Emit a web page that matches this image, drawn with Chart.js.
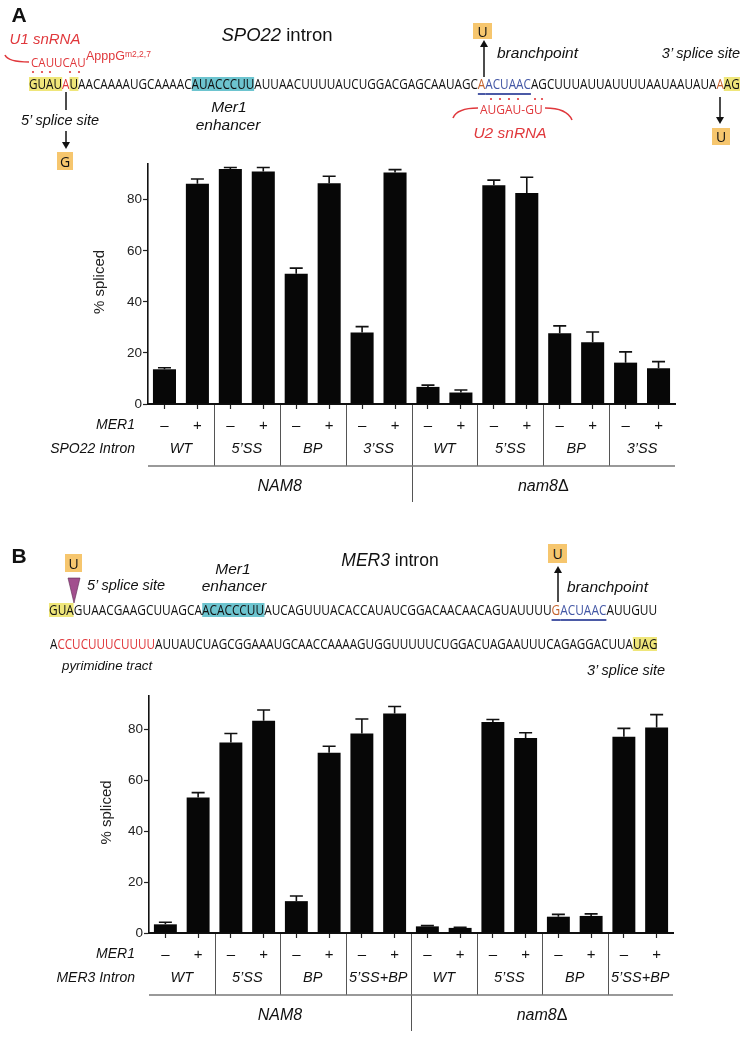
<!DOCTYPE html>
<html><head><meta charset="utf-8">
<script src="https://cdn.jsdelivr.net/npm/chart.js@4.4.1/dist/chart.umd.min.js"></script>
<style>
html,body{margin:0;padding:0;background:#fff;}
#page{position:relative;width:750px;height:1037px;overflow:hidden;font-family:'Liberation Sans',Arial,sans-serif;color:#111;}
canvas{position:absolute;left:0;}
svg{position:absolute;left:0;top:0;}
.t{position:absolute;white-space:nowrap;line-height:1;}
.c{transform:translate(-50%,-50%);}
.l{transform:translate(0,-50%);}
.rt{transform:translate(-100%,-50%);}
.i{font-style:italic;}
.red{color:#e0383c;}
.seq{position:absolute;white-space:nowrap;font-family:'Open Sans','Noto Sans',sans-serif;font-size:14.5px;line-height:14px;height:14px;transform-origin:0 50%;color:#111;}
.hy{display:inline-block;background:#efe67a;height:14px;line-height:14px;vertical-align:top;}
.ht{display:inline-block;background:#6dc4cf;height:14px;line-height:14px;vertical-align:top;}
.r{color:#e0383c;}
.o{color:#c4622c;}
.b{color:#4357a5;}
.ul{text-decoration:underline;text-decoration-color:#4b5aa6;text-decoration-thickness:1.5px;text-underline-offset:4px;}
.box{position:absolute;background:#f6c66e;font-family:'Open Sans','Noto Sans',sans-serif;font-size:14px;display:flex;align-items:center;justify-content:center;color:#111;}
</style></head>
<body>
<div id="page">
<canvas id="chartA" width="750" height="360" style="top:150px"></canvas>
<canvas id="chartB" width="750" height="357" style="top:680px"></canvas>

<svg width="750" height="1037" viewBox="0 0 750 1037">
  <g fill="none" stroke="#e0383c" stroke-width="1.6">
    <path d="M5,55 Q8,62 29,62"/>
    <path d="M453,118 Q457,108 478,108"/>
    <path d="M545,108 Q567,108 572,120"/>
  </g>
  <g fill="#e0383c">
    <circle cx="33" cy="72" r="1.1"/><circle cx="42" cy="72" r="1.1"/><circle cx="50" cy="72" r="1.1"/>
    <circle cx="70" cy="72" r="1.1"/><circle cx="79" cy="72" r="1.1"/>
    <circle cx="491" cy="99" r="1.1"/><circle cx="500" cy="99" r="1.1"/><circle cx="509" cy="99" r="1.1"/><circle cx="518" cy="99" r="1.1"/>
    <circle cx="535" cy="99" r="1.1"/><circle cx="542" cy="99" r="1.1"/>
  </g>
  <g stroke="#111" stroke-width="1.5" fill="none">
    <line x1="66" y1="92" x2="66" y2="110"/>
    <line x1="66" y1="131" x2="66" y2="143"/>
    <line x1="484" y1="77" x2="484" y2="46"/>
    <line x1="720" y1="97" x2="720" y2="118"/>
    <line x1="558" y1="602" x2="558" y2="572"/>
  </g>
  <g fill="#111">
    <polygon points="62,142 70,142 66,149"/>
    <polygon points="480,47 488,47 484,40"/>
    <polygon points="716,117 724,117 720,124"/>
    <polygon points="554,573 562,573 558,566"/>
  </g>
  <polygon points="68,578 80,578 74,603" fill="#a24f8e" stroke="#5a2a50" stroke-width="0.6"/>
</svg>

<!-- Panel A annotations -->
<div class="t c" style="left:19px;top:14px;font-size:21px;font-weight:bold;">A</div>
<div class="t c" style="left:277px;top:35px;font-size:18.5px;"><span class="i">SPO22</span> intron</div>
<div class="t c i red" style="left:45px;top:38px;font-size:15px;">U1 snRNA</div>
<div class="seq fit" data-x0="31" data-x1="86" style="top:55px;font-size:13.5px;color:#e0383c;">CAUUCAU</div>
<div class="t red" style="left:86px;top:50px;font-size:12.5px;">ApppG<span style="font-size:8.5px;position:relative;top:-3px;">m2,2,7</span></div>
<div class="seq fit" data-x0="29" data-x1="740" style="top:77px;"><span class="hy">GUAU</span><span class="r">A</span><span class="hy">U</span>AACAAAAUGCAAAAC<span class="ht">AUACCCUU</span>AUUAACUUUUAUCUGGACGAGCAAUAGC<span class="ul"><span class="o">A</span><span class="b">ACUAAC</span></span>AGCUUUAUUAUUUUAAUAAUAUA<span class="o">A</span><span class="hy">AG</span></div>
<div class="t c i" style="left:60px;top:120px;font-size:14.5px;">5’ splice site</div>
<div class="box" style="left:57px;top:152px;width:16px;height:18px;">G</div>
<div class="t c i" style="left:229px;top:107px;font-size:15.5px;">Mer1</div>
<div class="t c i" style="left:228px;top:125px;font-size:15.5px;">enhancer</div>
<div class="box" style="left:473px;top:23px;width:19px;height:16px;">U</div>
<div class="t l i" style="left:497px;top:53px;font-size:15.5px;">branchpoint</div>
<div class="t rt i" style="left:740px;top:53px;font-size:14.5px;">3’ splice site</div>
<div class="box" style="left:712px;top:128px;width:18px;height:17px;">U</div>
<div class="seq fit" data-x0="480" data-x1="543" style="top:102px;font-size:13.5px;color:#e0383c;">AUGAU-GU</div>
<div class="t c i red" style="left:510px;top:133px;font-size:15.5px;">U2 snRNA</div>

<!-- Panel B annotations -->
<div class="t c" style="left:19px;top:555px;font-size:21px;font-weight:bold;">B</div>
<div class="t c" style="left:390px;top:561px;font-size:17.5px;"><span class="i">MER3</span> intron</div>
<div class="box" style="left:65px;top:554px;width:17px;height:18px;">U</div>
<div class="t l i" style="left:87px;top:585px;font-size:14.5px;">5’ splice site</div>
<div class="t c i" style="left:233px;top:569px;font-size:15.5px;">Mer1</div>
<div class="t c i" style="left:234px;top:586px;font-size:15.5px;">enhancer</div>
<div class="seq fit" data-x0="49" data-x1="657" style="top:603px;"><span class="hy">GUA</span>GUAACGAAGCUUAGCA<span class="ht">ACACCCUU</span>AUCAGUUUACACCAUAUCGGACAACAACAGUAUUUU<span class="ul"><span class="o">G</span><span class="b">ACUAAC</span></span>AUUGUU</div>
<div class="box" style="left:548px;top:544px;width:19px;height:19px;">U</div>
<div class="t l i" style="left:567px;top:587px;font-size:15.5px;">branchpoint</div>
<div class="seq fit" data-x0="50" data-x1="657" style="top:637px;">A<span class="r">CCUCUUUCUUUU</span>AUUAUCUAGCGGAAAUGCAACCAAAAGUGGUUUUUCUGGACUAGAAUUUCAGAGGACUUA<span class="hy">UAG</span></div>
<div class="t l i" style="left:62px;top:666px;font-size:13.3px;">pyrimidine tract</div>
<div class="t l i" style="left:587px;top:670px;font-size:14.5px;">3’ splice site</div>
</div>

<script>
// ---- Data ----
const mer1Status = ["–","+","–","+","–","+","–","+","–","+","–","+","–","+","–","+"];
const intronsA = ["WT","5’SS","BP","3’SS","WT","5’SS","BP","3’SS"];
const intronsB = ["WT","5’SS","BP","5’SS+BP","WT","5’SS","BP","5’SS+BP"];
const strains = ["NAM8","nam8"];
const splicedA = [13.6, 86.3, 92.0, 91.1, 51.0, 86.5, 28.0, 90.7, 6.7, 4.5, 85.7, 82.6, 27.7, 24.2, 16.2, 14.0];
const errorA   = [0.6, 1.8, 0.6, 1.5, 2.2, 2.7, 2.3, 1.1, 0.7, 1.0, 2.0, 6.2, 2.9, 4.0, 4.2, 2.6];
const splicedB = [3.4, 53.2, 74.8, 83.3, 12.5, 70.7, 78.3, 86.1, 2.6, 2.0, 82.8, 76.5, 6.4, 6.7, 77.0, 80.6];
const errorB   = [0.8, 1.9, 3.5, 4.2, 2.0, 2.6, 5.7, 2.8, 0.3, 0.2, 1.0, 2.1, 0.9, 0.8, 3.3, 5.1];
const yTicks = [0, 20, 40, 60, 80];

// fit sequences
document.querySelectorAll('.fit').forEach(el => {
  const x0 = +el.dataset.x0, x1 = +el.dataset.x1;
  el.style.left = x0 + 'px';
  const w = el.offsetWidth;
  el.style.transform = 'scaleX(' + ((x1 - x0) / w) + ')';
});

const decor = {
  id: 'decor',
  afterDatasetsDraw(chart, args, o) {
    const ctx = chart.ctx, meta = chart.getDatasetMeta(0), ys = chart.scales.y;
    const vals = chart.data.datasets[0].data;
    ctx.save();
    ctx.strokeStyle = '#111'; ctx.lineWidth = 1.6;
    meta.data.forEach((bar, i) => {
      const yt = ys.getPixelForValue(vals[i] + o.errors[i]);
      ctx.beginPath();
      ctx.moveTo(bar.x, bar.y); ctx.lineTo(bar.x, yt);
      ctx.moveTo(bar.x - 6.5, yt); ctx.lineTo(bar.x + 6.5, yt);
      ctx.stroke();
    });
    ctx.restore();
  },
  afterDraw(chart, args, o) {
    const ctx = chart.ctx, meta = chart.getDatasetMeta(0), ca = chart.chartArea;
    const b = ca.bottom, bars = meta.data;
    ctx.save();
    ctx.strokeStyle = '#555'; ctx.lineWidth = 1;
    for (let k = 1; k < 8; k++) {
      const x = Math.round((bars[2*k-1].x + bars[2*k].x) / 2) + 0.5;
      ctx.beginPath(); ctx.moveTo(x, b + 1); ctx.lineTo(x, b + (k === 4 ? 98 : 62)); ctx.stroke();
    }
    ctx.strokeStyle = '#777'; ctx.lineWidth = 1.5;
    ctx.beginPath(); ctx.moveTo(ca.left, b + 62); ctx.lineTo(ca.right, b + 62); ctx.stroke();
    ctx.fillStyle = '#111'; ctx.textAlign = 'center'; ctx.textBaseline = 'middle';
    ctx.font = "italic 14.5px 'Liberation Sans', Arial";
    o.introns.forEach((t, k) => {
      ctx.fillText(t, (bars[2*k].x + bars[2*k+1].x) / 2, b + 45);
    });
    ctx.font = "italic 16px 'Liberation Sans', Arial";
    const xN = (bars[3].x + bars[4].x) / 2, xn = (bars[11].x + bars[12].x) / 2;
    ctx.fillText(strains[0], xN, b + 83);
    const w1 = ctx.measureText(strains[1]).width;
    ctx.font = "16px 'Liberation Sans', Arial";
    const w2 = ctx.measureText('Δ').width;
    ctx.textAlign = 'left';
    ctx.fillText('Δ', xn - (w1 + w2) / 2 + w1, b + 83);
    ctx.font = "italic 16px 'Liberation Sans', Arial";
    ctx.fillText(strains[1], xn - (w1 + w2) / 2, b + 83);
    ctx.textAlign = 'right';
    ctx.font = "italic 14px 'Liberation Sans', Arial";
    ctx.fillText('MER1', 135, b + 21);
    ctx.fillText(o.rowLabel, 135, b + 45);
    ctx.translate(o.titleX, (ca.top + ca.bottom) / 2 - 2);
    ctx.rotate(-Math.PI / 2);
    ctx.textAlign = 'center';
    ctx.font = "15px 'Liberation Sans', Arial";
    ctx.fillStyle = '#222';
    ctx.fillText('% spliced', 0, 0);
    ctx.restore();
  }
};

function makeChart(id, values, errors, introns, rowLabel, yMax, padTop, padRight, yWidth, xHeight, titleX) {
  return new Chart(document.getElementById(id), {
    type: 'bar',
    data: {
      labels: mer1Status,
      datasets: [{ data: values, backgroundColor: '#070707', borderWidth: 0, barPercentage: 0.7, categoryPercentage: 1.0 }]
    },
    options: {
      responsive: false, animation: false, events: [],
      layout: { padding: { top: padTop, right: padRight, left: 0, bottom: 0 } },
      plugins: { legend: { display: false }, tooltip: { enabled: false },
        decor: { errors: errors, introns: introns, rowLabel: rowLabel, titleX: titleX } },
      scales: {
        x: {
          grid: { display: true, drawOnChartArea: false, offset: false, tickLength: 5, tickColor: '#222', tickWidth: 1.2 },
          border: { display: true, color: '#111', width: 2 },
          ticks: { color: '#111', padding: 8, font: { size: 15, family: "'Liberation Sans', Arial" }, maxRotation: 0, autoSkip: false },
          afterFit(s) { s.height = xHeight; }
        },
        y: {
          min: 0, max: yMax,
          grid: { display: true, drawOnChartArea: false, tickLength: 5, tickColor: '#222', tickWidth: 1.2 },
          border: { display: true, color: '#111', width: 1.6 },
          ticks: { stepSize: 20, includeBounds: false, padding: 1, color: '#222', font: { size: 13.5, family: "'Liberation Sans', Arial" } },
          afterBuildTicks(s) { s.ticks = yTicks.map(v => ({ value: v })); },
          afterFit(s) { s.width = yWidth; }
        }
      }
    },
    plugins: [decor]
  });
}

makeChart('chartA', splicedA, errorA, intronsA, 'SPO22 Intron', 94, 14, 75, 148, 106, 100);
makeChart('chartB', splicedB, errorB, intronsB, 'MER3 Intron', 93, 16, 77, 149, 104, 107);
</script>
</body></html>
